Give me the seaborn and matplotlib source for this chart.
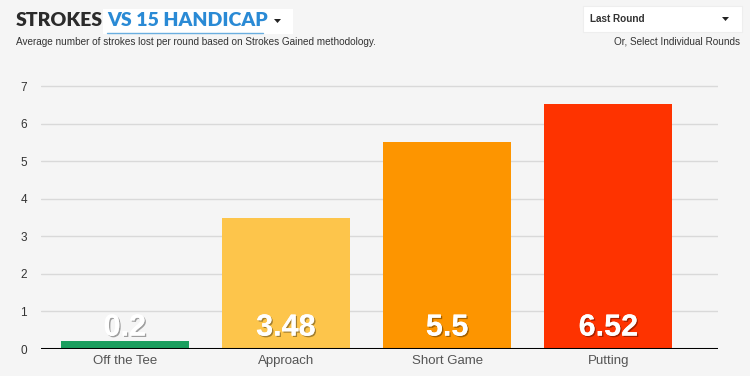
import matplotlib
matplotlib.use("Agg")
import matplotlib.pyplot as plt
import matplotlib.patheffects as pe
from matplotlib.patches import Rectangle, Polygon
import seaborn as sns
import pandas as pd

categories = ["Off the Tee", "Approach", "Short Game", "Putting"]
values = [0.2, 3.48, 5.5, 6.52]
value_labels = ["0.2", "3.48", "5.5", "6.52"]
colors = ["#1b9e5e", "#fdc54b", "#fd9500", "#fe3300"]
yticks = [0, 1, 2, 3, 4, 5, 6, 7]

sns.set_theme(style="white")
plt.rcParams['font.family'] = ['Liberation Sans', 'DejaVu Sans']

bg = "#f5f5f5"
fig = plt.figure(figsize=(7.5, 3.76), dpi=100, facecolor=bg)
ax = fig.add_axes([41/750, 1-349/376, (718-41)/750, 7.05*37.57/376])
ax.set_facecolor(bg)

df = pd.DataFrame({"cat": categories, "val": values})
sns.barplot(data=df, x="cat", y="val", hue="cat", palette=colors, legend=False,
            width=0.795, saturation=1, linewidth=0, ax=ax, zorder=3)

ax.set_xlim(-0.52, 3.68)
ax.set_ylim(0, 7.05)
ax.set_yticks(yticks)
ax.set_yticklabels([str(t) for t in yticks], fontsize=8.5, color="#333333")
for t in yticks[1:]:
    ax.axhline(t, color="#d9d9d9", lw=1, zorder=1)
ax.axhline(0, color="black", lw=2.2, zorder=4)
ax.tick_params(axis="y", length=0, pad=10)
ax.tick_params(axis="x", length=0, pad=4, labelsize=9.5, labelcolor="#555555")
ax.set_xlabel("")
ax.set_ylabel("")
for s in ax.spines.values():
    s.set_visible(False)

for i, (v, lab) in enumerate(zip(values, value_labels)):
    ax.text(i, 0.17, lab, ha="center", va="bottom", fontsize=22, fontweight="bold",
            color="white", zorder=5,
            path_effects=[pe.withSimplePatchShadow(offset=(1, -1), shadow_rgbFace="black", alpha=0.35),
                          pe.Normal()])

# Header
fig.patches.append(Rectangle((103/750, 1-34/376), 190/750, 25/376, transform=fig.transFigure,
                             facecolor="white", edgecolor="none"))
fig.text(16/750, 1-21/376, "STROKES", fontsize=14, fontweight="heavy", color="#2b2b2b",
         va="center", ha="left", family=["Lato", "DejaVu Sans"])
fig.text(107/750, 1-21/376, "VS 15 HANDICAP", fontsize=14, fontweight="heavy", color="#2a8ad5",
         va="center", ha="left", family=["Lato", "DejaVu Sans"])
fig.lines.append(plt.Line2D([107/750, 263/750], [1-33/376, 1-33/376], transform=fig.transFigure,
                            color="#6aaee0", lw=1))
fig.patches.append(Polygon([[274/750, 1-19/376], [281/750, 1-19/376], [277.5/750, 1-23/376]],
                           closed=True, transform=fig.transFigure, facecolor="#222222", edgecolor="none"))
fig.text(16/750, 1-42/376, "Average number of strokes lost per round based on Strokes Gained methodology.",
         fontsize=7.2, color="#333333", va="center", ha="left")

# Dropdown
fig.patches.append(Rectangle((583/750, 1-32/376), 159/750, 26/376, transform=fig.transFigure,
                             facecolor="white", edgecolor="#eeeeee", lw=0.8))
fig.text(590/750, 1-19/376, "Last Round", fontsize=7.2, color="#333333", fontweight="bold",
         va="center", ha="left")
fig.patches.append(Polygon([[722/750, 1-17/376], [729/750, 1-17/376], [725.5/750, 1-21/376]],
                           closed=True, transform=fig.transFigure, facecolor="#222222", edgecolor="none"))
fig.text(740/750, 1-42/376, "Or, Select Individual Rounds", fontsize=7.2, color="#333333",
         va="center", ha="right")

fig.savefig("out.png", dpi=100, facecolor=bg)
